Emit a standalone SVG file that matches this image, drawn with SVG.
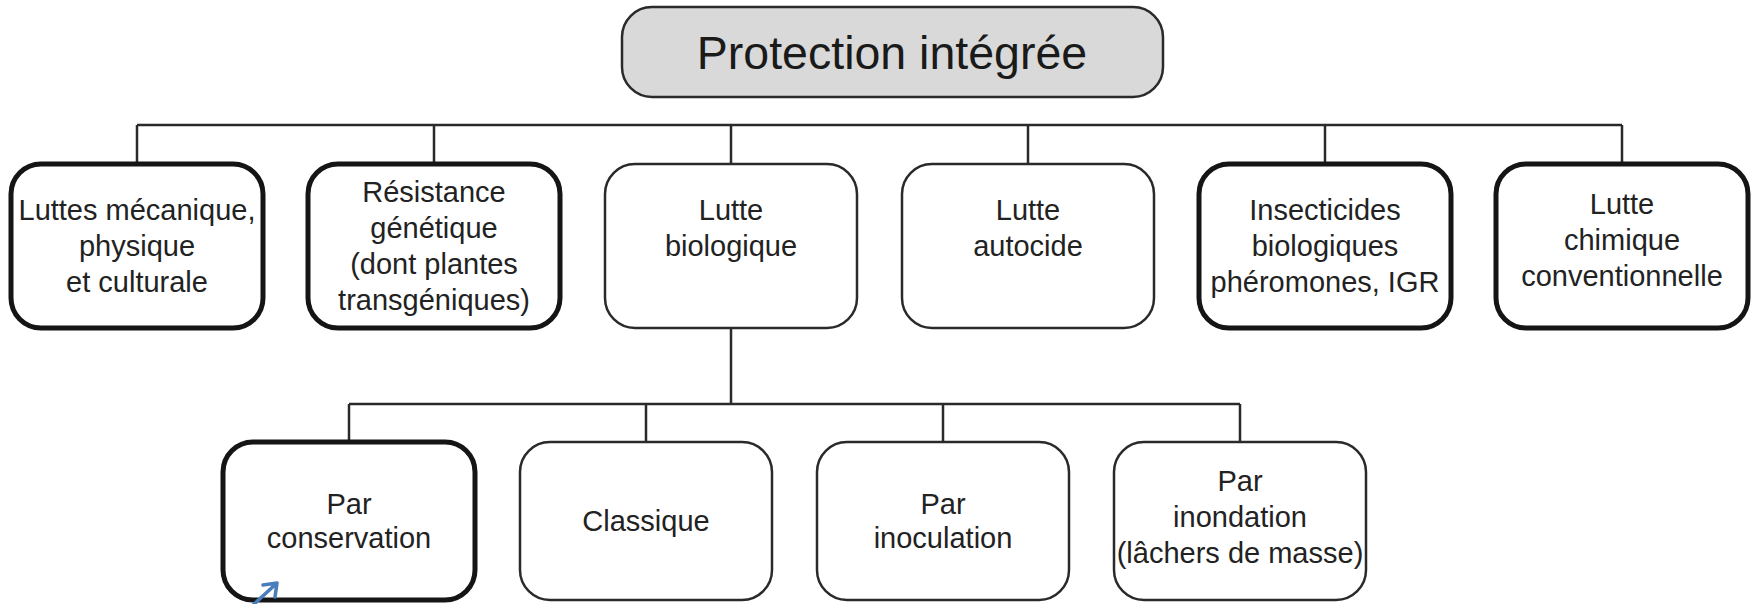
<svg xmlns="http://www.w3.org/2000/svg" width="1754" height="604" viewBox="0 0 1754 604">
  <style>
    .box { fill: #ffffff; stroke: #2a2a2a; stroke-width: 2.5; }
    .bold { stroke: #151515; stroke-width: 5; }
    .root { fill: #d9d9d9; stroke: #2a2a2a; stroke-width: 2.5; }
    .lbl { font-family: "Liberation Sans", Arial, Helvetica, sans-serif; font-size: 29px; fill: #222222; text-anchor: middle; }
    .title { font-family: "Liberation Sans", Arial, Helvetica, sans-serif; font-size: 46.5px; fill: #1a1a1a; text-anchor: middle; }
    .wire { fill: none; stroke: #2a2a2a; stroke-width: 2.5; }
    .pointer { fill: none; stroke: #4a7ebb; stroke-width: 3.5; stroke-linecap: round; stroke-linejoin: round; }
  </style>
  <rect width="1754" height="604" fill="#ffffff"/>

  <!-- connectors -->
  <g id="connectors">
    <path class="wire" d="M137 125 H1622 M137 125 V164 M434 125 V164 M731 125 V164 M1028 125 V164 M1325 125 V164 M1622 125 V164"/>
    <path class="wire" d="M731 328 V404 M349 404 H1240 M349 404 V442 M646 404 V442 M943 404 V442 M1240 404 V442"/>
  </g>

  <!-- root -->
  <g id="protection-integree">
    <rect class="root" x="622" y="7" width="541" height="90" rx="30" ry="30"/>
    <text class="title" x="892" y="69">Protection intégrée</text>
  </g>

  <!-- first level -->
  <g id="luttes-mecanique">
    <rect class="box bold" x="11" y="164" width="252" height="164" rx="30" ry="30"/>
    <text class="lbl" x="137" y="220">Luttes mécanique,</text>
    <text class="lbl" x="137" y="256">physique</text>
    <text class="lbl" x="137" y="292">et culturale</text>
  </g>
  <g id="resistance-genetique">
    <rect class="box bold" x="308" y="164" width="252" height="164" rx="30" ry="30"/>
    <text class="lbl" x="434" y="202">Résistance</text>
    <text class="lbl" x="434" y="238">génétique</text>
    <text class="lbl" x="434" y="274">(dont plantes</text>
    <text class="lbl" x="434" y="310">transgéniques)</text>
  </g>
  <g id="lutte-biologique">
    <rect class="box" x="605" y="164" width="252" height="164" rx="30" ry="30"/>
    <text class="lbl" x="731" y="220">Lutte</text>
    <text class="lbl" x="731" y="256">biologique</text>
  </g>
  <g id="lutte-autocide">
    <rect class="box" x="902" y="164" width="252" height="164" rx="30" ry="30"/>
    <text class="lbl" x="1028" y="220">Lutte</text>
    <text class="lbl" x="1028" y="256">autocide</text>
  </g>
  <g id="insecticides-biologiques">
    <rect class="box bold" x="1199" y="164" width="252" height="164" rx="30" ry="30"/>
    <text class="lbl" x="1325" y="220">Insecticides</text>
    <text class="lbl" x="1325" y="256">biologiques</text>
    <text class="lbl" x="1325" y="292">phéromones, IGR</text>
  </g>
  <g id="lutte-chimique">
    <rect class="box bold" x="1496" y="164" width="252" height="164" rx="30" ry="30"/>
    <text class="lbl" x="1622" y="214">Lutte</text>
    <text class="lbl" x="1622" y="250">chimique</text>
    <text class="lbl" x="1622" y="286">conventionnelle</text>
  </g>

  <!-- second level -->
  <g id="par-conservation">
    <rect class="box bold" x="223" y="442" width="252" height="158" rx="30" ry="30"/>
    <text class="lbl" x="349" y="514">Par</text>
    <text class="lbl" x="349" y="548">conservation</text>
  </g>
  <g id="classique">
    <rect class="box" x="520" y="442" width="252" height="158" rx="30" ry="30"/>
    <text class="lbl" x="646" y="531">Classique</text>
  </g>
  <g id="par-inoculation">
    <rect class="box" x="817" y="442" width="252" height="158" rx="30" ry="30"/>
    <text class="lbl" x="943" y="514">Par</text>
    <text class="lbl" x="943" y="548">inoculation</text>
  </g>
  <g id="par-inondation">
    <rect class="box" x="1114" y="442" width="252" height="158" rx="30" ry="30"/>
    <text class="lbl" x="1240" y="491">Par</text>
    <text class="lbl" x="1240" y="527">inondation</text>
    <text class="lbl" x="1240" y="563">(lâchers de masse)</text>
  </g>

  <!-- small blue pointer -->
  <g id="pointer">
    <path class="pointer" d="M252 606 L277 583 M263 585 L277 583 L275 597"/>
  </g>
</svg>
